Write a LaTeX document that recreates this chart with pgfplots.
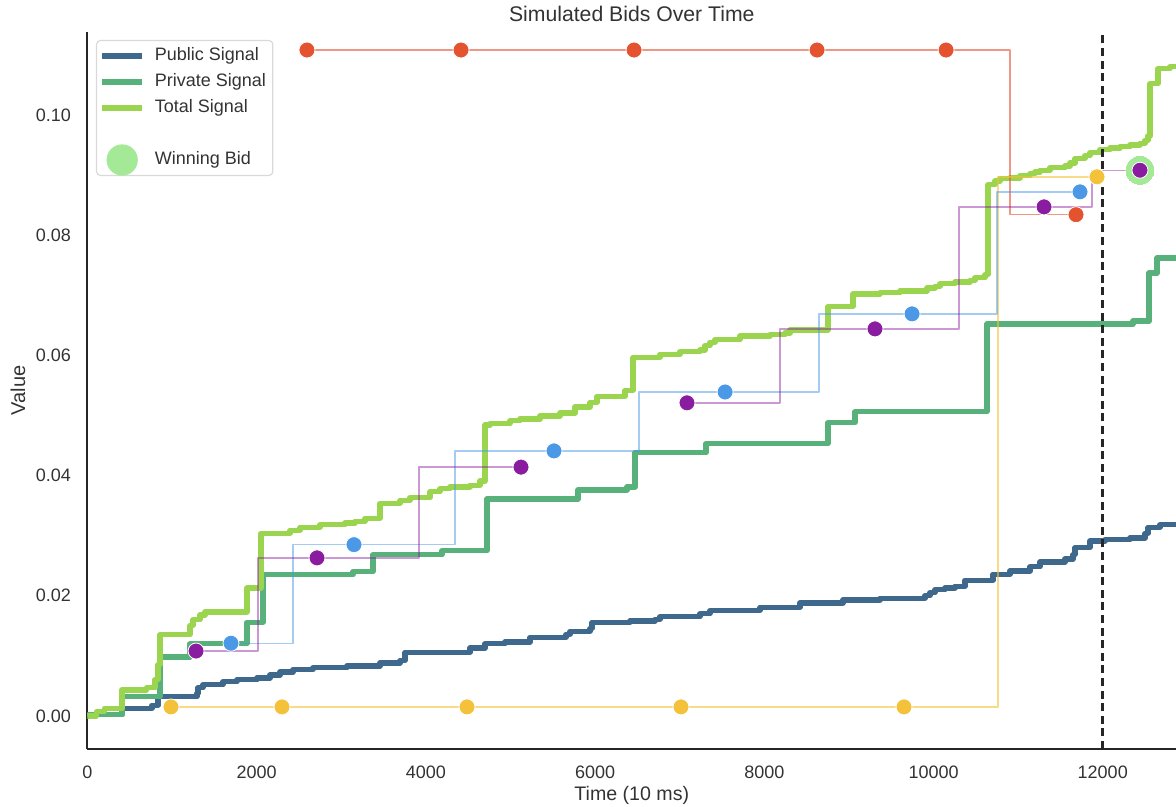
\documentclass[border=0pt]{standalone}
\usepackage{fontspec}
\setmainfont{Liberation Sans}
\usepackage{pgfplots}
\pgfplotsset{compat=1.18}

\definecolor{pubc}{RGB}{62,105,140}
\definecolor{privc}{RGB}{88,176,122}
\definecolor{totc}{RGB}{155,213,80}
\definecolor{redb}{RGB}{228,82,48}
\definecolor{yelb}{RGB}{243,194,58}
\definecolor{blub}{RGB}{74,152,230}
\definecolor{purb}{RGB}{138,28,160}
\definecolor{winc}{RGB}{163,233,150}
\definecolor{txt}{RGB}{51,51,51}

\begin{document}
\begin{tikzpicture}
\begin{axis}[
  scale only axis,
  width=544.25pt, height=358.5pt,
  xmin=0, xmax=12866, ymin=-0.0055, ymax=0.1138,
  scaled x ticks=false, scaled y ticks=false,
  axis x line*=bottom, axis y line*=left,
  axis line style={line width=1pt, color=black!85, -},
  major tick length=0pt,
  xtick={0,2000,4000,6000,8000,10000,12000},
  xticklabels={0,2000,4000,6000,8000,10000,12000},
  ytick={0,0.02,0.04,0.06,0.08,0.1},
  yticklabels={0.00,0.02,0.04,0.06,0.08,0.10},
  tick label style={font=\fontsize{9}{10}\selectfont, text=txt},
  xticklabel style={yshift=-5pt},
  yticklabel style={xshift=-4.75pt},
  title={Simulated Bids Over Time},
  title style={at={(axis description cs:0.5,1)}, anchor=center, yshift=3pt,
    font=\fontsize{10.6}{12}\selectfont, text=txt},
  xlabel={Time (10 ms)},
  xlabel style={at={(axis description cs:0.5,0)}, anchor=center, yshift=-23pt,
    font=\fontsize{9.8}{11}\selectfont, text=txt},
  ylabel={Value},
  ylabel style={at={(axis description cs:0,0.5)}, anchor=center, yshift=34.75pt,
    font=\fontsize{10}{11}\selectfont, text=txt},
  legend cell align=left,
  legend style={at={(axis description cs:0.0078,0.989)}, anchor=north west,
    draw=black!15, line width=0.6pt, rounded corners=2pt, fill=white,
    font=\fontsize{9}{10}\selectfont, text=txt,
    inner xsep=1.5pt, inner ysep=1.25pt, column sep=3pt,
    nodes={inner xsep=2pt, inner ysep=2.25pt, text height=6.5pt, text depth=2pt}},
  line join=round,
]
\coordinate (sw) at (rel axis cs:0,0);

% legend entries
\addlegendimage{legend image code/.code={\draw[pubc, line width=2.6pt] (0pt,0pt) -- (20pt,0pt);}}
\addlegendentry{Public Signal}
\addlegendimage{legend image code/.code={\draw[privc, line width=2.6pt] (0pt,0pt) -- (20pt,0pt);}}
\addlegendentry{Private Signal}
\addlegendimage{legend image code/.code={\draw[totc, line width=2.6pt] (0pt,0pt) -- (20pt,0pt);}}
\addlegendentry{Total Signal}
\addlegendimage{empty legend}
\addlegendentry{}
\addlegendimage{legend image code/.code={\fill[winc, overlay] (10pt,0pt) circle (7.5pt);}}
\addlegendentry{Winning Bid}

% public signal
\addplot[const plot, pubc, line width=2.6pt, forget plot] coordinates {
(0,0.0002) (408,0.0013) (762,0.0018) (833,0.0032) (1294,0.0038) (1306,0.0047)
(1365,0.0052) (1602,0.0057) (1767,0.0060) (2003,0.0063) (2157,0.0068) (2275,0.0073)
(2429,0.0077) (2665,0.0080) (3067,0.0083) (3457,0.0088) (3694,0.0092) (3753,0.0106)
(4521,0.0113) (4698,0.0120) (4935,0.0123) (5230,0.0131) (5656,0.0136) (5703,0.0141)
(5940,0.0146) (5963,0.0156) (6412,0.0158) (6708,0.0161) (6767,0.0165) (7240,0.0170)
(7358,0.0175) (7831,0.0176) (7949,0.0181) (8422,0.0188) (8930,0.0193) (9367,0.0196)
(9899,0.0200) (9959,0.0205) (10018,0.0210) (10136,0.0213) (10254,0.0216) (10372,0.0226)
(10703,0.0236) (10904,0.0241) (11140,0.0248) (11258,0.0256) (11554,0.0261) (11649,0.0268)
(11672,0.0280) (11849,0.0291) (12026,0.0293) (12322,0.0296) (12499,0.0304) (12535,0.0314)
(12677,0.0318) (12795,0.0319) (12900,0.0319)
};

% private signal
\addplot[const plot, privc, line width=2.6pt, forget plot] coordinates {
(0,0.0002) (408,0.0032) (857,0.0098) (1212,0.0120) (1885,0.0156) (2074,0.0235)
(3138,0.0240) (3375,0.0268) (4190,0.0275) (4722,0.0361) (5798,0.0376) (6377,0.0381)
(6471,0.0438) (7311,0.0453) (8753,0.0488) (9072,0.0506) (10632,0.0652) (12358,0.0657)
(12547,0.0737) (12641,0.0762) (12900,0.0762)
};

% total signal
\addplot[const plot, totc, line width=2.6pt, forget plot] coordinates {
(0,0.0000) (110,0.0007) (200,0.0013) (408,0.0043) (700,0.0047) (798,0.0060)
(833,0.0085) (857,0.0135) (1212,0.0151) (1247,0.0160) (1330,0.0168) (1389,0.0173)
(1885,0.0213) (2050,0.0304) (2394,0.0309) (2512,0.0314) (2748,0.0318) (3044,0.0321)
(3162,0.0324) (3280,0.0329) (3457,0.0354) (3694,0.0359) (3812,0.0363) (4048,0.0373)
(4166,0.0378) (4285,0.0381) (4521,0.0384) (4639,0.0391) (4698,0.0484) (4757,0.0486)
(4994,0.0491) (5112,0.0494) (5348,0.0499) (5585,0.0504) (5762,0.0514) (5940,0.0522)
(6023,0.0532) (6353,0.0542) (6448,0.0597) (6767,0.0602) (7003,0.0606) (7240,0.0609)
(7299,0.0616) (7358,0.0622) (7417,0.0626) (7713,0.0632) (8067,0.0634) (8244,0.0637)
(8303,0.0642) (8753,0.0681) (9048,0.0702) (9367,0.0704) (9604,0.0707) (9923,0.0712)
(10018,0.0715) (10077,0.0719) (10254,0.0722) (10431,0.0725) (10490,0.0729) (10608,0.0734)
(10644,0.0884) (10727,0.0890) (10786,0.0894) (10904,0.0895) (11022,0.0899) (11140,0.0902)
(11199,0.0905) (11258,0.0908) (11377,0.0912) (11554,0.0915) (11613,0.0920) (11672,0.0928)
(11790,0.0932) (11849,0.0937) (11967,0.0942) (12086,0.0945) (12204,0.0947) (12322,0.0950)
(12440,0.0953) (12499,0.0958) (12535,0.0965) (12559,0.1052) (12653,0.1077) (12795,0.1080)
(12900,0.1080)
};

% bidder traces
\addplot[const plot, redb, draw opacity=0.6, line width=0.7pt, forget plot] coordinates {
(2594,0.1108) (10904,0.0834) (11684,0.0834)
};
\addplot[const plot, yelb, draw opacity=0.6, line width=0.7pt, forget plot] coordinates {
(987,0.0015) (10762,0.0897) (11932,0.0897)
};
\addplot[const plot, blub, draw opacity=0.5, line width=0.7pt, forget plot] coordinates {
(1696,0.0121) (2429,0.0285) (4344,0.0441) (6519,0.0539) (8647,0.0669) (10750,0.0872) (11731,0.0872)
};
\addplot[const plot, purb, draw opacity=0.45, line width=0.7pt, forget plot] coordinates {
(1283,0.0108) (2015,0.0263) (3918,0.0414) (5124,0.0414)
};
\addplot[const plot, purb, draw opacity=0.45, line width=0.7pt, forget plot] coordinates {
(7086,0.0521) (8185,0.0644) (10301,0.0847) (11873,0.0908) (12440,0.0908)
};

% deadline
\addplot[black!85, line width=1.4pt, dash pattern=on 4pt off 2.3pt, forget plot] coordinates {
(12000,-0.0055) (12000,0.1138)
};

% winning bid halo
\addplot[only marks, color=winc, mark=*, mark size=7pt, mark options={fill=winc, draw=winc, line width=0pt}, forget plot] coordinates {
(12440,0.0908)
};

% bids
\addplot[only marks, mark=*, mark size=4pt, mark options={fill=redb, draw=white, line width=0.4pt}, forget plot] coordinates {
(2594,0.1108) (4415,0.1108) (6460,0.1108) (8623,0.1108) (10148,0.1108) (11684,0.0834)
};
\addplot[only marks, mark=*, mark size=4pt, mark options={fill=yelb, draw=white, line width=0.4pt}, forget plot] coordinates {
(987,0.0015) (2299,0.0015) (4486,0.0015) (7015,0.0015) (9651,0.0015) (11932,0.0897)
};
\addplot[only marks, mark=*, mark size=4pt, mark options={fill=blub, draw=white, line width=0.4pt}, forget plot] coordinates {
(1696,0.0121) (3150,0.0285) (5514,0.0441) (7536,0.0539) (9746,0.0669) (11731,0.0872)
};
\addplot[only marks, mark=*, mark size=4pt, mark options={fill=purb, draw=white, line width=0.4pt}, forget plot] coordinates {
(1283,0.0108) (2713,0.0263) (5124,0.0414) (7086,0.0521) (9308,0.0644) (11306,0.0847) (12440,0.0908)
};
\end{axis}
\pgfresetboundingbox
\path (sw) ++(-43.75pt,-29pt) rectangle ++(588pt,403.5pt);
\end{tikzpicture}
\end{document}
